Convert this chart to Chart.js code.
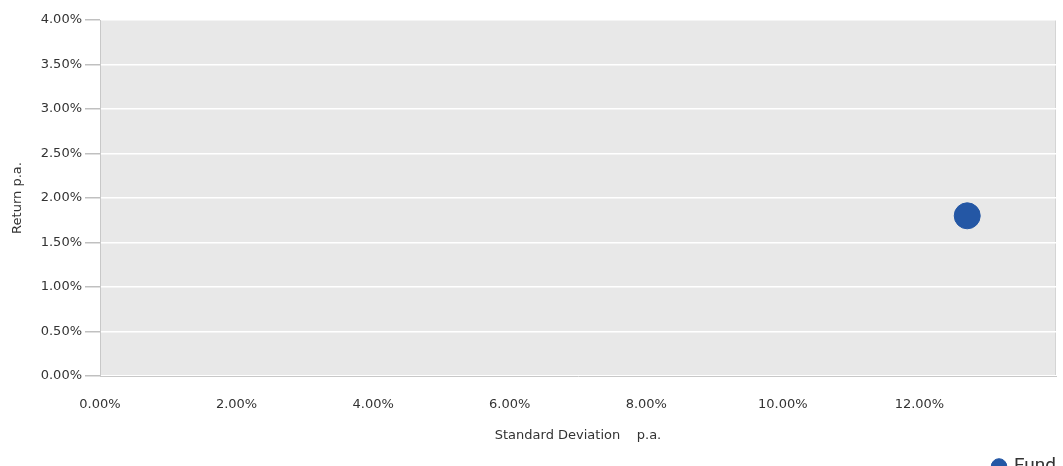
<!DOCTYPE html>
<html>
<head>
<meta charset="utf-8">
<script src="https://cdn.jsdelivr.net/npm/chart.js@4.4.0/dist/chart.umd.min.js"></script>
<style>
  html, body { margin: 0; padding: 0; background: #fff; overflow: hidden; }
  #wrap { width: 1063px; height: 486px; position: relative; }
</style>
</head>
<body>
<div id="wrap"><canvas id="riskChart"></canvas></div>
<script>
// Data
const seriesNames = ["Fund"];
const stdDev = [12.70];      // x, % p.a.
const returns = [1.80];      // y, % p.a.
const xTickMax = 12;         // last labelled x tick

// Grey plot background + right border
const plotBg = {
  id: "plotBg",
  beforeDraw(chart) {
    const { ctx, chartArea: a } = chart;
    ctx.save();
    ctx.fillStyle = "#e8e8e8";
    ctx.fillRect(a.left, a.top, a.right - a.left, a.bottom - a.top);
    ctx.strokeStyle = "#d4d4d4";
    ctx.lineWidth = 1;
    ctx.beginPath();
    ctx.moveTo(a.right - 0.5, a.top);
    ctx.lineTo(a.right - 0.5, a.bottom);
    ctx.stroke();
    ctx.restore();
  }
};

const tickFont = { family: "'DejaVu Sans', Verdana, sans-serif", size: 13 };

new Chart(document.getElementById("riskChart"), {
  type: "scatter",
  data: {
    datasets: [{
      label: seriesNames[0],
      data: stdDev.map((x, i) => ({ x, y: returns[i] })),
      backgroundColor: "#2457a5",
      borderColor: "#2457a5",
      pointRadius: 13,
      pointHoverRadius: 13
    }]
  },
  options: {
    responsive: true,
    maintainAspectRatio: false,
    animation: false,
    layout: { autoPadding: false, padding: { left: 0, right: 7, top: 20, bottom: 0 } },
    plugins: {
      tooltip: { enabled: false },
      legend: {
        position: "bottom",
        align: "end",
        labels: {
          usePointStyle: true,
          pointStyle: "circle",
          boxWidth: 11,
          boxHeight: 11,
          padding: 0,
          color: "#333",
          font: { family: "Roboto, sans-serif", size: 19 }
        }
      }
    },
    scales: {
      x: {
        type: "linear",
        min: 0,
        max: 14,
        afterFit(s) { s.height = 81; s.paddingLeft = 0; s.paddingRight = 0; },
        ticks: {
          stepSize: 2,
          padding: 21,
          color: "#333",
          font: tickFont,
          maxRotation: 0,
          callback: v => v > xTickMax ? "" : v.toFixed(2) + "%"
        },
        grid: { drawOnChartArea: false, drawTicks: false },
        border: { color: "#c8c8c8" },
        title: {
          display: true,
          text: "Standard Deviation    p.a.",
          color: "#333",
          font: tickFont,
          padding: { top: 0, bottom: 14 }
        }
      },
      y: {
        min: 0,
        max: 4,
        afterFit(s) { s.width = 100; },
        ticks: {
          stepSize: 0.5,
          padding: 3,
          color: "#333",
          font: tickFont,
          callback: v => v.toFixed(2) + "%"
        },
        grid: { color: "#ffffff", lineWidth: 1.5, tickColor: "#c0c0c0", tickLength: 15 },
        border: { color: "#c8c8c8" },
        title: {
          display: true,
          text: "Return p.a.",
          color: "#333",
          font: tickFont,
          padding: { top: 10, bottom: 0 }
        }
      }
    }
  },
  plugins: [plotBg]
});
</script>
</body>
</html>
